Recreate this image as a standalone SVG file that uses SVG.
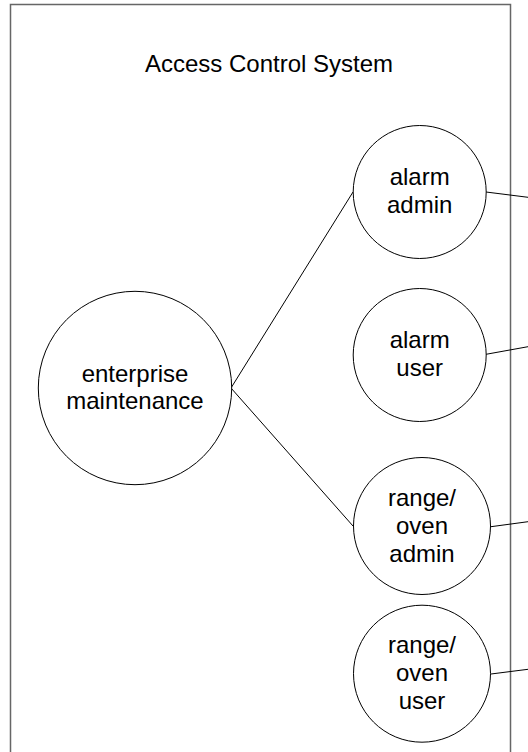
<svg xmlns="http://www.w3.org/2000/svg" width="528" height="752" viewBox="0 0 528 752">
<style>
.node circle{fill:#fff;stroke:#000;stroke-width:1}
text{font-family:"Liberation Sans",Arial,sans-serif;font-size:24px;fill:#000;text-anchor:middle}
.edges line{stroke:#000;stroke-width:1}
</style>
<rect width="528" height="752" fill="#fff"/>
<g id="system">
<rect x="10.5" y="4.5" width="500" height="760" fill="#fff" stroke="#666" stroke-width="1.5"/>
<text x="269" y="72">Access Control System</text>
</g>
<g class="edges" id="connectors">
<line x1="231" y1="388" x2="353" y2="192"/>
<line x1="231" y1="388" x2="353" y2="526"/>
<line x1="486" y1="192" x2="528" y2="197.3"/>
<line x1="486" y1="354.3" x2="528" y2="346.7"/>
<line x1="491" y1="526.7" x2="528" y2="521.7"/>
<line x1="491" y1="674" x2="528" y2="669.3"/>
</g>
<g class="node" id="enterprise-maintenance">
<circle cx="135" cy="388" r="96.7"/>
<text x="135" y="381.5">enterprise</text>
<text x="135" y="409.3">maintenance</text>
</g>
<g class="node" id="alarm-admin">
<circle cx="419.7" cy="192" r="66.5"/>
<text x="419.7" y="185">alarm</text>
<text x="419.7" y="213">admin</text>
</g>
<g class="node" id="alarm-user">
<circle cx="419.7" cy="355" r="66.5"/>
<text x="419.7" y="347.5">alarm</text>
<text x="419.7" y="376">user</text>
</g>
<g class="node" id="range-oven-admin">
<circle cx="422" cy="526" r="68.5"/>
<text x="422" y="506">range/</text>
<text x="422" y="534">oven</text>
<text x="422" y="562">admin</text>
</g>
<g class="node" id="range-oven-user">
<circle cx="422" cy="673.7" r="68.5"/>
<text x="422" y="653">range/</text>
<text x="422" y="681">oven</text>
<text x="422" y="709">user</text>
</g>
</svg>
